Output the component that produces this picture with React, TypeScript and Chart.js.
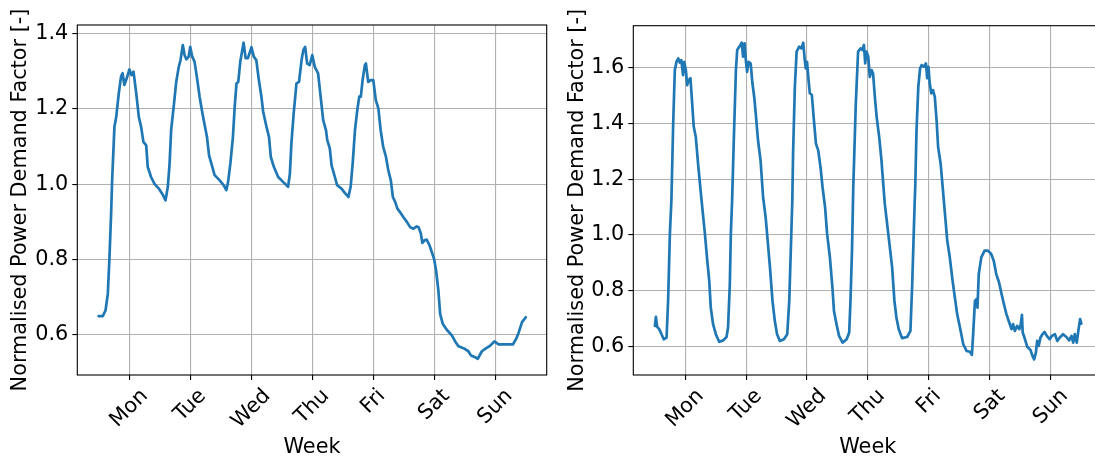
import React, { useEffect, useRef } from "react";
import { Chart, registerables } from "chart.js";

Chart.register(...registerables);

// ---------- data ----------
const dayLabels = ["Mon", "Tue", "Wed", "Thu", "Fri", "Sat", "Sun"];
const dayTickHours = [12, 36, 60, 84, 108, 132, 156];
const leftYTicks = [0.6, 0.8, 1.0, 1.2, 1.4];
const rightYTicks = [0.6, 0.8, 1.0, 1.2, 1.4, 1.6];
const yTitle = "Normalised Power Demand Factor [-]";
const xTitle = "Week";

// hours since start of week (Mon 00:00) and values
const leftHours = [
  0.0, 1.6, 2.7, 3.6, 4.2, 4.9, 5.3, 6.2, 6.9, 7.9, 8.8, 9.4, 10.1, 11.0, 12.1, 12.9, 13.7, 14.8, 15.8, 16.7,
  17.6, 18.7, 19.3, 20.6, 22.0, 23.7, 25.3, 26.3, 27.2, 27.9, 28.5, 29.5, 30.5, 31.5, 32.2, 33.1, 33.8, 34.5,
  35.4, 36.0, 36.8, 37.7, 38.6, 39.7, 40.8, 41.7, 42.6, 43.4, 44.3, 45.6, 47.6, 49.2, 50.2, 50.9, 51.8, 52.8,
  53.5, 54.2, 54.9, 55.7, 56.5, 57.0, 57.8, 58.7, 60.1, 61.0, 62.0, 63.0, 64.0, 64.7, 66.0, 67.0, 67.7, 68.9,
  70.6, 72.5, 74.5, 75.2, 75.8, 76.7, 77.8, 78.8, 79.8, 80.5, 81.2, 82.0, 83.0, 84.0, 85.0, 86.3, 87.3, 88.3,
  89.4, 89.9, 90.9, 91.6, 92.9, 93.8, 95.5, 96.8, 98.2, 99.1, 99.9, 100.8, 101.7, 102.5, 103.1, 103.8, 104.7,
  105.1, 106.0, 107.0, 108.0, 109.0, 110.0, 110.9, 111.9, 113.0, 113.9, 114.9, 115.7, 116.6, 117.5, 118.5,
  119.8, 121.2, 122.5, 123.8, 125.1, 125.8, 126.7, 127.3, 128.1, 129.0, 130.1, 131.0, 131.9, 132.7, 133.6,
  134.3, 135.3, 136.9, 138.9, 140.2, 141.5, 143.5, 145.4, 146.4, 148.1, 149.1, 150.7, 152.0, 154.0, 155.6,
  157.3, 160.0, 162.9, 164.2, 165.1, 166.5, 168.0,
];
const leftValues = [
  0.650, 0.650, 0.665, 0.709, 0.798, 0.922, 1.010, 1.152, 1.178, 1.240, 1.285, 1.294, 1.263, 1.280, 1.304, 1.289,
  1.298, 1.240, 1.178, 1.152, 1.112, 1.103, 1.046, 1.019, 1.000, 0.988, 0.971, 0.957, 0.993, 1.055, 1.143, 1.205,
  1.271, 1.311, 1.329, 1.369, 1.342, 1.331, 1.338, 1.364, 1.338, 1.325, 1.285, 1.232, 1.188, 1.156, 1.125, 1.077,
  1.055, 1.024, 1.010, 0.997, 0.984, 1.006, 1.055, 1.125, 1.205, 1.267, 1.271, 1.325, 1.356, 1.375, 1.334, 1.334,
  1.363, 1.338, 1.329, 1.276, 1.232, 1.192, 1.152, 1.125, 1.072, 1.046, 1.019, 1.006, 0.993, 1.028, 1.108, 1.188,
  1.267, 1.271, 1.329, 1.356, 1.364, 1.320, 1.316, 1.342, 1.311, 1.294, 1.232, 1.170, 1.143, 1.117, 1.095, 1.050,
  1.019, 0.997, 0.988, 0.977, 0.966, 0.993, 1.055, 1.143, 1.196, 1.232, 1.232, 1.276, 1.316, 1.320, 1.271, 1.276,
  1.276, 1.223, 1.201, 1.143, 1.099, 1.072, 1.037, 1.010, 0.966, 0.953, 0.935, 0.926, 0.913, 0.900, 0.886, 0.882,
  0.888, 0.886, 0.869, 0.844, 0.851, 0.853, 0.838, 0.820, 0.802, 0.771, 0.718, 0.656, 0.630, 0.614, 0.599, 0.583,
  0.570, 0.565, 0.557, 0.546, 0.541, 0.537, 0.557, 0.563, 0.572, 0.583, 0.575, 0.575, 0.575, 0.590, 0.605, 0.634,
  0.647,
];

const rightHours = [
  0.1, 0.5, 1.0, 1.8, 2.7, 3.6, 4.7, 5.3, 6.0, 6.6, 7.3, 7.95, 8.6, 9.3, 9.9, 10.5, 11.2, 11.6, 12.3, 12.8, 13.4,
  14.1, 14.6, 15.4, 16.2, 17.1, 18.1, 19.0, 19.8, 20.6, 21.5, 22.1, 23.0, 24.1, 25.4, 27.0, 28.3, 28.9, 29.6,
  30.0, 30.5, 31.2, 32.0, 32.5, 33.5, 34.3, 34.8, 35.4, 35.9, 36.4, 37.0, 37.8, 38.5, 39.2, 39.8, 40.7, 41.7,
  42.7, 43.7, 44.5, 45.4, 46.4, 47.3, 48.2, 49.3, 50.9, 52.2, 53.0, 53.6, 54.2, 54.5, 55.2, 55.9, 56.9, 57.8,
  58.5, 59.1, 59.5, 60.0, 60.6, 61.1, 61.9, 62.7, 63.5, 64.4, 65.3, 66.1, 67.1, 67.9, 69.0, 70.0, 70.6, 71.6,
  72.6, 74.0, 75.6, 76.6, 77.1, 77.7, 78.2, 79.2, 80.1, 81.1, 81.8, 82.4, 82.9, 83.4, 84.1, 84.7, 85.4, 86.0,
  86.7, 87.4, 88.4, 89.3, 90.0, 90.6, 91.3, 92.6, 93.5, 94.4, 95.2, 96.1, 97.4, 99.4, 100.7, 101.4, 102.0, 102.4,
  102.6, 103.1, 103.8, 104.5, 105.1, 106.0, 106.8, 107.3, 107.8, 108.3, 108.9, 109.6, 110.3, 111.0, 111.6,
  112.6, 113.4, 114.3, 115.2, 116.2, 117.3, 118.2, 119.1, 120.2, 121.5, 122.8, 124.1, 124.9, 125.4, 126.1,
  126.7, 127.1, 127.6, 128.6, 129.9, 131.2, 132.5, 133.5, 134.5, 135.6, 136.6, 137.5, 138.5, 139.6, 140.5,
  141.1, 141.8, 142.7, 143.6, 144.1, 144.6, 144.9, 145.6, 146.7, 148.0, 148.6, 149.4, 150.1, 150.6, 151.2,
  151.9, 152.7, 153.5, 154.4, 155.5, 156.4, 157.6, 158.5, 159.5, 160.8, 162.1, 163.2, 164.1, 164.8, 165.4,
  166.2, 166.8, 167.5, 168.0,
];
const rightValues = [
  0.675, 0.707, 0.671, 0.663, 0.645, 0.627, 0.633, 0.764, 1.004, 1.124, 1.399, 1.590, 1.620, 1.632, 1.617, 1.626,
  1.572, 1.620, 1.590, 1.536, 1.554, 1.561, 1.494, 1.387, 1.351, 1.255, 1.159, 1.076, 1.004, 0.920, 0.836, 0.740,
  0.681, 0.645, 0.618, 0.623, 0.635, 0.669, 0.824, 1.004, 1.124, 1.351, 1.590, 1.662, 1.676, 1.688, 1.638, 1.686,
  1.626, 1.584, 1.620, 1.614, 1.543, 1.494, 1.435, 1.339, 1.267, 1.135, 1.064, 0.980, 0.884, 0.764, 0.693, 0.645,
  0.621, 0.627, 0.645, 0.764, 0.944, 1.124, 1.291, 1.530, 1.656, 1.674, 1.668, 1.688, 1.626, 1.596, 1.620, 1.554,
  1.507, 1.501, 1.411, 1.327, 1.303, 1.243, 1.171, 1.100, 1.004, 0.920, 0.812, 0.728, 0.681, 0.639, 0.615, 0.627,
  0.651, 0.764, 0.944, 1.171, 1.471, 1.656, 1.668, 1.662, 1.680, 1.614, 1.656, 1.638, 1.566, 1.590, 1.578, 1.494,
  1.423, 1.351, 1.267, 1.183, 1.112, 1.058, 0.956, 0.884, 0.764, 0.704, 0.663, 0.631, 0.635, 0.657, 0.824, 1.004,
  1.124, 1.171, 1.375, 1.530, 1.596, 1.608, 1.602, 1.614, 1.561, 1.602, 1.543, 1.507, 1.518, 1.494, 1.411, 1.315,
  1.255, 1.171, 1.076, 0.980, 0.920, 0.836, 0.776, 0.717, 0.669, 0.609, 0.585, 0.582, 0.571, 0.645, 0.764, 0.770,
  0.740, 0.860, 0.920, 0.944, 0.944, 0.932, 0.908, 0.860, 0.830, 0.788, 0.753, 0.717, 0.687, 0.663, 0.681, 0.657,
  0.675, 0.663, 0.678, 0.714, 0.651, 0.633, 0.600, 0.588, 0.571, 0.555, 0.579, 0.621, 0.603, 0.633, 0.645, 0.653,
  0.639, 0.627, 0.639, 0.645, 0.621, 0.633, 0.645, 0.635, 0.623, 0.639, 0.615, 0.645, 0.615, 0.657, 0.699, 0.683,
];

// ---------- styling ----------
const FAMILY = '"DejaVu Sans", "Liberation Sans", sans-serif';
const FS = 20.8;
const LINE_COLOR = "#1f77b4";
const GRID_COLOR = "#b0b0b0";

const decorPlugin = {
  id: "decor",
  afterDraw(chart: any, _args: any, opts: any) {
    const { ctx, chartArea: a } = chart;
    const xs = chart.scales.x;
    ctx.save();
    // spines
    ctx.strokeStyle = "#000";
    ctx.lineWidth = 1.1;
    ctx.strokeRect(a.left, a.top, a.right - a.left, a.bottom - a.top);

    ctx.fillStyle = "#000";
    ctx.font = `${FS}px ${FAMILY}`;
    // rotated x tick labels, centred on the tick like matplotlib
    const lh = FS * 1.1;
    dayLabels.forEach((lab, i) => {
      const px = xs.getPixelForValue(dayTickHours[i]);
      const w = ctx.measureText(lab).width;
      const cy = a.bottom + 9.8 + ((w + lh) * Math.SQRT1_2) / 2;
      ctx.save();
      ctx.translate(px, cy);
      ctx.rotate(-Math.PI / 4);
      ctx.textAlign = "center";
      ctx.textBaseline = "middle";
      ctx.fillText(lab, 0, 0);
      ctx.restore();
    });
    // x title
    ctx.textAlign = "center";
    ctx.textBaseline = "alphabetic";
    ctx.fillText(xTitle, (a.left + a.right) / 2, 453);
    // y title
    ctx.save();
    ctx.translate(opts.titleX, (a.top + a.bottom) / 2);
    ctx.rotate(-Math.PI / 2);
    ctx.fillText(yTitle, 0, 0);
    ctx.restore();
    ctx.restore();
  },
};

type PanelProps = {
  left: number;
  width: number;
  padTop: number;
  padRight: number;
  yAxisWidth: number;
  yMin: number;
  yMax: number;
  yTicks: number[];
  hours: number[];
  values: number[];
  titleX: number;
};

function Panel(p: PanelProps) {
  const ref = useRef<HTMLCanvasElement | null>(null);
  useEffect(() => {
    if (!ref.current) return;
    const chart = new Chart(ref.current, {
      type: "line",
      data: {
        datasets: [
          {
            data: p.hours.map((h, i) => ({ x: h, y: p.values[i] })),
            borderColor: LINE_COLOR,
            borderWidth: 2.7,
            borderJoinStyle: "round",
            borderCapStyle: "round",
            pointRadius: 0,
            tension: 0,
            fill: false,
          },
        ],
      },
      options: {
        responsive: false,
        animation: false,
        devicePixelRatio: 1,
        events: [],
        layout: { padding: { top: p.padTop, left: 0, right: p.padRight, bottom: 0 } },
        plugins: {
          legend: { display: false },
          tooltip: { enabled: false },
          decor: { titleX: p.titleX },
        } as any,
        scales: {
          x: {
            type: "linear",
            min: -8.4,
            max: 176.2,
            afterBuildTicks: (s: any) => {
              s.ticks = dayTickHours.map((v) => ({ value: v }));
            },
            afterFit: (s: any) => {
              s.height = 86;
            },
            ticks: { display: false },
            grid: { color: GRID_COLOR, lineWidth: 1.1, tickLength: 5, tickColor: "#000", tickWidth: 1.1 },
            border: { display: false },
          },
          y: {
            type: "linear",
            min: p.yMin,
            max: p.yMax,
            afterBuildTicks: (s: any) => {
              s.ticks = p.yTicks.map((v) => ({ value: v }));
            },
            afterFit: (s: any) => {
              s.width = p.yAxisWidth;
            },
            ticks: {
              color: "#000",
              font: { family: FAMILY, size: FS },
              padding: 4,
              callback: (v: any) => Number(v).toFixed(1),
            },
            grid: { color: GRID_COLOR, lineWidth: 1.1, tickLength: 5, tickColor: "#000", tickWidth: 1.1 },
            border: { display: false },
          },
        },
      } as any,
      plugins: [decorPlugin],
    });
    return () => chart.destroy();
  }, []);
  return (
    <canvas
      ref={ref}
      width={p.width}
      height={461}
      style={{ position: "absolute", left: p.left, top: 0, width: p.width, height: 461, display: "block" }}
    />
  );
}

export default function App() {
  return (
    <div
      style={{
        position: "fixed",
        left: 0,
        top: 0,
        width: 1095,
        height: 461,
        overflow: "hidden",
        background: "#fff",
      }}
    >
      <Panel
        left={0}
        width={560}
        padTop={25}
        padRight={13.3}
        yAxisWidth={77.3}
        yMin={0.494}
        yMax={1.422}
        yTicks={leftYTicks}
        hours={leftHours}
        values={leftValues}
        titleX={26}
      />
      <Panel
        left={550}
        width={565}
        padTop={25.7}
        padRight={12.8}
        yAxisWidth={83.3}
        yMin={0.499}
        yMax={1.749}
        yTicks={rightYTicks}
        hours={rightHours}
        values={rightValues}
        titleX={32.5}
      />
    </div>
  );
}
